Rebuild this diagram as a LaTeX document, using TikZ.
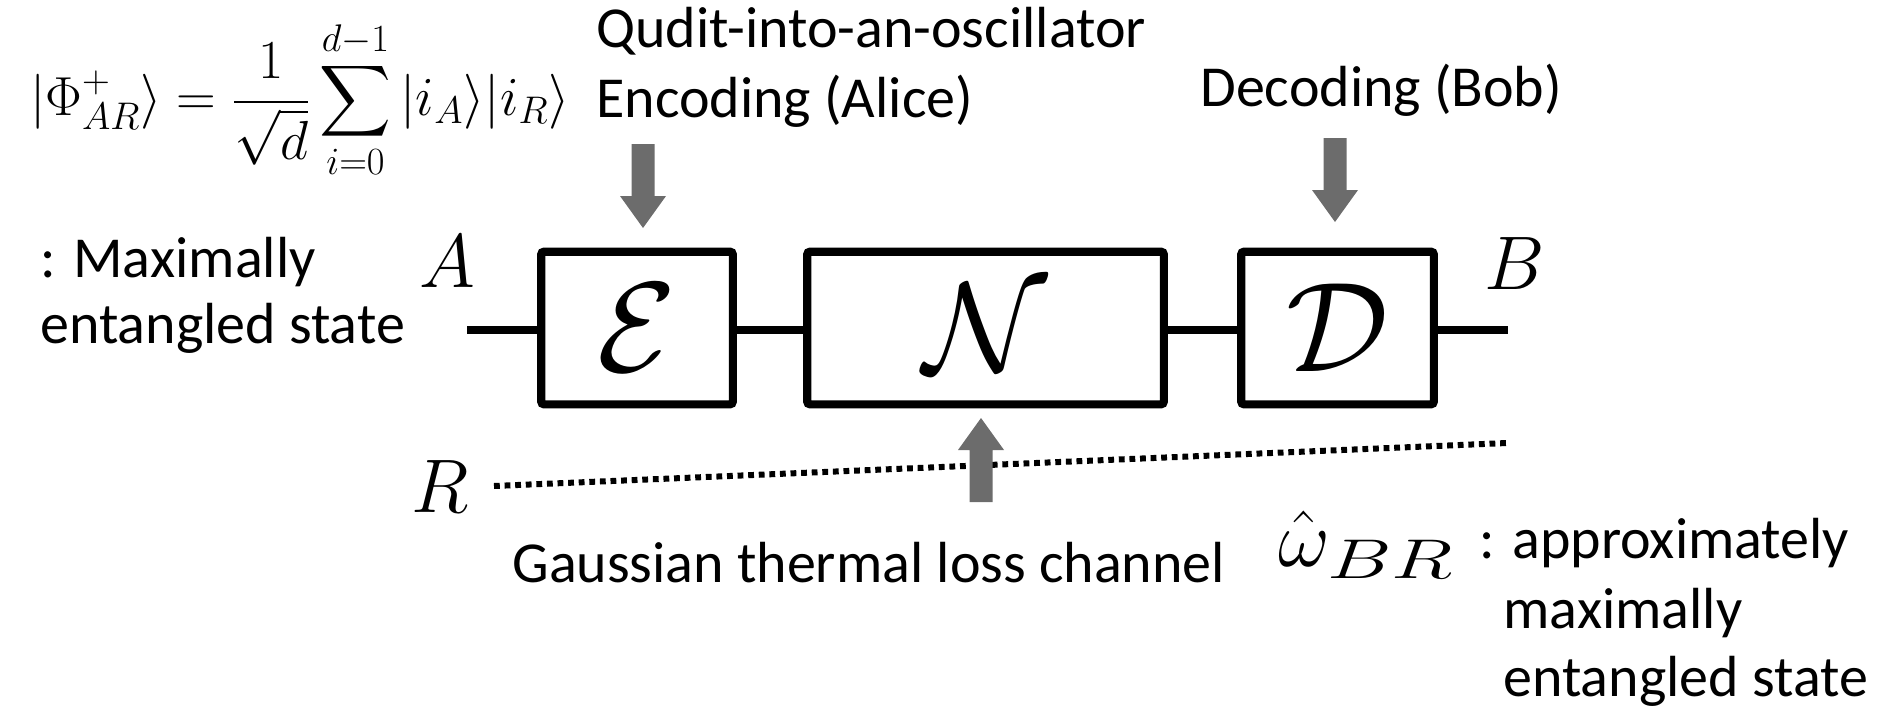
\RequirePackage{fix-cm}
\documentclass[tikz,border=0pt]{standalone}
\usepackage{amsmath}
\usepackage{graphicx}
\usepackage[no-math]{fontspec}
\setmainfont{Carlito}
\definecolor{arrowgray}{RGB}{108,108,108}
\begin{document}
\begin{tikzpicture}[x=0.5pt,y=-0.5pt,
  box/.style={draw,line width=4.1pt,rounded corners=1.5pt,minimum height=76.35pt,inner sep=0pt,font=\fontsize{64}{64}\selectfont},
  wire/.style={line width=4.1pt},
  dotline/.style={line width=3pt,dash pattern=on 2.9pt off 2.4pt},
  txt/.style={font=\fontsize{29}{35}\selectfont,inner sep=0pt},
  mlab/.style={font=\fontsize{38}{40}\selectfont,inner sep=0pt},
  barrow/.pic={\fill[arrowgray] (0,0) -- (-23,-32) -- (-11.5,-32) -- (-11.5,-84) -- (11.5,-84) -- (11.5,-32) -- (23,-32) -- cycle;}
]
\useasboundingbox (0,0) rectangle (1888,706);

% boxes
\node[box,minimum width=95.85pt] (E) at (637,328) {$\mathcal{E}$};
\node[box,minimum width=178.35pt] (N) at (985.5,328) {$\mathcal{N}$};
\node[box,minimum width=96.35pt] (D) at (1337.5,328) {$\mathcal{D}$};

% wires
\coordinate (Ain) at (467,330);
\coordinate (Bout) at (1508,330);
\draw[wire] (Ain) -- (Ain -| E.west);
\draw[wire] (Ain -| E.east) -- (Ain -| N.west);
\draw[wire] (Ain -| N.east) -- (Ain -| D.west);
\draw[wire] (Ain -| D.east) -- (Bout);

% reference line
\coordinate (Rs) at (494,486);
\coordinate (Re) at (1507,443);
\draw[dotline] (Rs) -- (Re);

% labels
\node[mlab] (A) at (447,262) {$A$};
\node[mlab] (B) at (1515,264) {$B$};
\node[mlab] (R) at (440,487) {$R$};

% block arrows
\pic (ea) at (643,228) {barrow};
\pic (da) at (1335,222) {barrow};
\pic[rotate=180] (na) at (981,418) {barrow};

% texts
\node[font=\fontsize{27.5}{31}\selectfont,inner sep=0pt] (phi) at (300,100) {$\displaystyle |\Phi^+_{AR}\rangle = \frac{1}{\sqrt{d}}\sum_{i=0}^{d-1}|i_A\rangle|i_R\rangle$};
\node[txt,anchor=base west] (enc1) at (596,48) {Qudit-into-an-oscillator};
\node[txt,anchor=base west] (enc2) at (596,118) {Encoding (Alice)};
\node[txt,anchor=base west] (dec) at (1200,106) {Decoding (Bob)};
\node[txt,anchor=base west] (max1) at (40,277) {: Maximally};
\node[txt,anchor=base west] (max2) at (40,343) {entangled state};
\node[txt,anchor=base west] (gauss) at (512,582) {Gaussian thermal loss channel};
\node[font=\fontsize{40}{42}\selectfont,inner sep=0pt,anchor=base west] (omega) at (1278,566) {$\hat{\omega}_{\scalebox{1.45}[1]{$\scriptstyle BR$}}$};
\node[txt,anchor=base west] (ap1) at (1479,558) {: approximately};
\node[txt,anchor=base west] (ap2) at (1503,628) {maximally};
\node[txt,anchor=base west] (ap3) at (1503,696) {entangled state};
\end{tikzpicture}
\end{document}
